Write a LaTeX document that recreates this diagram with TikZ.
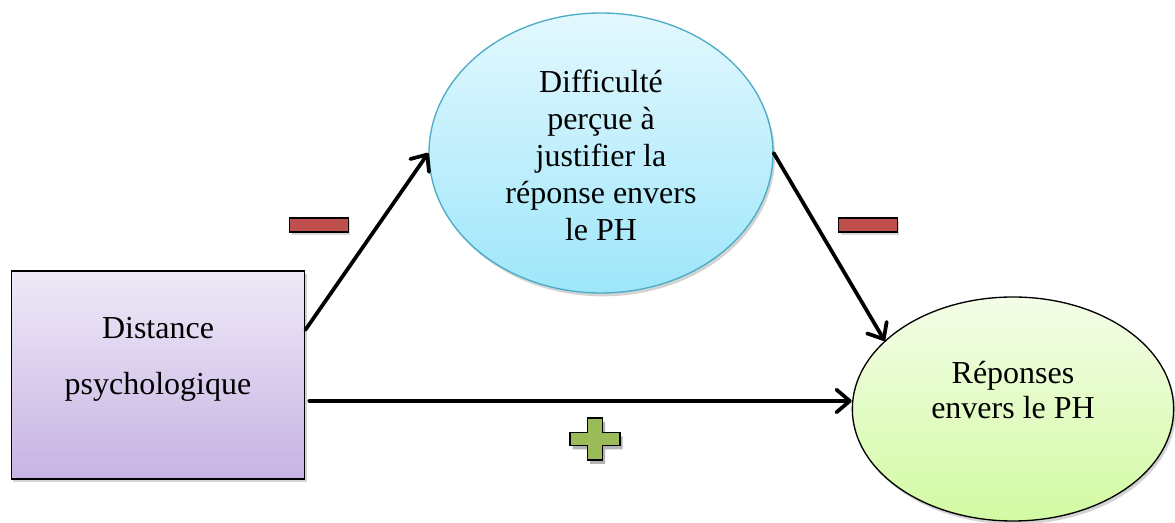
\documentclass[tikz,border=0pt]{standalone}
\usepackage{fontspec}
\setmainfont{Liberation Serif}
\usetikzlibrary{arrows.meta,positioning,shadows,shapes.geometric}

\definecolor{boxtop}{HTML}{EFE9F7}
\definecolor{boxbot}{HTML}{C6B3E3}
\definecolor{cyantop}{HTML}{E3F8FE}
\definecolor{cyanbot}{HTML}{9EE6FA}
\definecolor{cyanline}{HTML}{4BACC6}
\definecolor{greentop}{HTML}{F4FDE8}
\definecolor{greenbot}{HTML}{D2FAA2}
\definecolor{minusred}{HTML}{C0504D}
\definecolor{plusgreen}{HTML}{9BBB59}

% centred lines of text with a given line spacing
\newcommand{\stacktext}[2]{{\fontsize{24}{#1}\selectfont
    \begin{tabular}{@{}c@{}}#2\end{tabular}}}

\begin{document}
\begin{tikzpicture}[
    x=0.75pt, y=-0.75pt,
    mybox/.style={
        rectangle,
        draw=black,
        line width=1pt,
        top color=boxtop,
        bottom color=boxbot,
        drop shadow={opacity=0.35,shadow xshift=1.5pt,shadow yshift=-2pt},
        minimum width=220pt,
        minimum height=156pt},
    myellipse/.style={
        ellipse,
        line width=1pt,
        inner sep=0pt,
        drop shadow={opacity=0.35,shadow xshift=1.5pt,shadow yshift=-2.5pt}},
    mytext/.style={inner sep=0pt},
    myarrow/.style={
        -{Straight Barb[length=10pt,width=17pt,line cap=round,line join=round]},
        line width=2.8pt,
        line cap=round},
    minussign/.style={
        rectangle,
        draw=black,
        line width=1.2pt,
        fill=minusred,
        minimum width=44pt,
        minimum height=10.5pt,
        inner sep=0pt,
        drop shadow={opacity=0.3,shadow xshift=1.5pt,shadow yshift=-2.5pt}}
    ]
    \useasboundingbox (0,0) rectangle (1175,523);

    \node[mybox,label={[mytext,yshift=15pt]center:{\stacktext{42pt}{Distance\\psychologique}}}]
        (dist) at (158,375) {};
    \node[myellipse,draw=cyanline,top color=cyantop,bottom color=cyanbot,
          minimum width=258pt,minimum height=210pt,
          label={[mytext,yshift=-4.5pt]center:{\stacktext{27.75pt}{Difficulté\\perçue à\\justifier la\\réponse envers\\le PH}}}]
        (diff) at (601,153) {};
    \node[myellipse,draw=black,top color=greentop,bottom color=greenbot,
          minimum width=241pt,minimum height=168pt,
          label={[mytext,yshift=11pt]center:{\stacktext{26pt}{Réponses\\envers le PH}}}]
        (resp) at (1013,409) {};

    % signs on the paths
    \node[minussign] (minusA) at (319,225) {};
    \node[minussign] (minusB) at (868,225) {};
    \coordinate (plus) at (595,439);
    \fill[black,opacity=0.3] ([xshift=2pt,yshift=-3pt]plus) ++(-7.5,-21) -- ++(15,0) -- ++(0,14.5) -- ++(17.5,0)
        -- ++(0,13) -- ++(-17.5,0) -- ++(0,14.5) -- ++(-15,0) -- ++(0,-14.5) -- ++(-17.5,0)
        -- ++(0,-13) -- ++(17.5,0) -- cycle;
    \draw[line width=1.2pt,fill=plusgreen] (plus) ++(-7.5,-21) -- ++(15,0) -- ++(0,14.5) -- ++(17.5,0)
        -- ++(0,13) -- ++(-17.5,0) -- ++(0,14.5) -- ++(-15,0) -- ++(0,-14.5) -- ++(-17.5,0)
        -- ++(0,-13) -- ++(17.5,0) -- cycle;

    \draw[myarrow] (dist.17) -- (diff.west);
    \draw[myarrow] (diff.east) -- (resp.152);
    \draw[myarrow] ([xshift=3pt]dist.-10) -- (dist.-10 -| resp.west);
\end{tikzpicture}
\end{document}
